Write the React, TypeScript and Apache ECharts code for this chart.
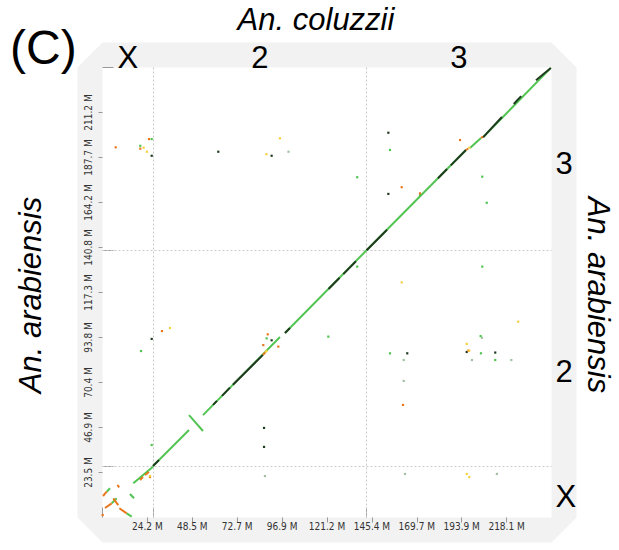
import { useEffect, useRef } from "react";
import * as echarts from "echarts";

// Genome sizes (Mb) and ticks
const xTotal = 242.37; // An. coluzzii
const yTotal = 234.62; // An. arabiensis
const xTickLabels = ["24.2 M", "48.5 M", "72.7 M", "96.9 M", "121.2 M", "145.4 M", "169.7 M", "193.9 M", "218.1 M"];
const yTickLabels = ["23.5 M", "46.9 M", "70.4 M", "93.8 M", "117.3 M", "140.8 M", "164.2 M", "187.7 M", "211.2 M"];

// Chromosome arms along each axis (Mb)
const chromNames = ["X", "2", "3"];
const xChromStarts = [0, 27.4, 142.4];
const xChromEnds = [27.4, 142.4, 242.37];
const yChromEnds = [26.6, 139.5, 234.62];
const yChromLabelAt = [10.7, 75.9, 184.8];

// Alignment segments [x1, y1, x2, y2] in Mb, grouped by identity class
const greenSegments = [
  [27.26, 26.85, 46.7, 45.6],
  [46.7, 53.4, 54.25, 45.1],
  [54.25, 53.4, 95.8, 94.1],
  [98.5, 96.2, 142.4, 139.2],
  [142.4, 139.2, 196.2, 191.6],
  [198.4, 192.6, 204.3, 197.9],
  [205.4, 198.2, 242.0, 234.4],
  [16.63, 17.83, 27.26, 26.49],
  [2.27, 13.45, 4.05, 15.22],
  [14.84, 12.25, 17.0, 10.01],
  [4.97, 7.4, 7.66, 10.01],
  [13.06, 2.19, 15.76, 0.5],
];
const darkSegments = [
  [27.26, 26.85, 30.5, 30.0],
  [59.65, 58.7, 61.8, 60.8],
  [64.5, 63.4, 68.8, 67.7],
  [70.4, 69.2, 86.6, 84.8],
  [98.5, 96.2, 101.2, 98.8],
  [122.0, 119.1, 128.0, 125.0],
  [130.0, 126.9, 136.8, 133.6],
  [142.6, 139.3, 153.6, 150.0],
  [181.1, 176.9, 186.0, 181.7],
  [188.0, 183.6, 196.2, 191.6],
  [205.4, 198.2, 215.6, 208.8],
  [222.0, 215.6, 226.0, 219.7],
  [234.0, 228.0, 242.0, 234.4],
];
const orangeSegments = [
  [0.27, 11.21, 2.27, 13.45],
  [7.99, 16.94, 9.07, 15.75],
  [1.35, 4.95, 4.97, 7.4],
  [5.83, 10.0, 8.5, 6.5],
  [9.07, 4.8, 13.06, 2.19],
  [20.24, 19.55, 21.86, 21.12],
  [22.94, 22.16, 25.1, 23.72],
  [86.6, 84.8, 87.8, 86.0],
  [196.2, 191.6, 197.5, 192.4],
  [204.3, 197.9, 205.4, 198.6],
];
const yellowSegments = [
  [87.8, 86.0, 89.0, 87.2],
];

// Isolated matches [x, y] in Mb
const greenDots = [
  [26.56, 37.8], [137.5, 177.4], [155.2, 191.6], [205.0, 177.7], [207.4, 164.1],
  [137.5, 130.8], [205.0, 130.8], [121.9, 94.3], [204.1, 94.6], [155.2, 85.6],
  [204.3, 85.6], [212.0, 82.1], [20.8, 86.8], [26.56, 197.3], [20.4, 193.8],
  [88.6, 93.4], [171.4, 168.1],
];
const darkDots = [
  [62.5, 190.7], [91.3, 188.6], [154.3, 168.7], [26.56, 188.6], [26.56, 93.1],
  [164.5, 85.6], [212.0, 86.0], [87.2, 46.7], [87.2, 36.8], [154.3, 200.6],
  [196.6, 86.3], [91.3, 92.4],
];
const paleDots = [
  [100.4, 190.7], [162.6, 82.1], [199.4, 82.1], [220.7, 82.1], [162.6, 71.2],
  [204.8, 93.7], [163.3, 22.7], [212.9, 22.7], [87.7, 21.6],
];
const orangeDots = [
  [193.0, 196.8], [161.5, 172.2], [89.2, 95.5], [94.9, 89.1], [86.8, 89.9],
  [197.5, 87.0], [7.1, 193.0], [25.1, 197.3], [20.4, 192.3], [32.1, 97.2],
  [162.2, 58.7], [0.1, 1.3], [25.64, 21.1], [171.4, 169.0],
];
const yellowDots = [
  [95.8, 197.7], [88.5, 189.4], [161.5, 122.6], [224.4, 102.1], [196.6, 90.5],
  [22.2, 192.8], [24.0, 190.7], [36.4, 98.8], [198.0, 87.0], [25.64, 21.64],
  [198.0, 192.8], [196.6, 22.7], [198.0, 21.1],
];

const COLORS = {
  green: "#52c452",
  dark: "#1f3b1f",
  orange: "#e8771e",
  yellow: "#f5d040",
  pale: "#a3bfa3",
  frame: "#f2f2f2",
};

const SANS = "'Liberation Sans', Arial, Helvetica, sans-serif";
const NARROW = "'Liberation Sans Narrow', 'DejaVu Sans Condensed', 'Liberation Sans', sans-serif";

const xStep = xTotal / 10;
const yStep = yTotal / 10;
const xTickValues = xTickLabels.map((_, i) => (i + 1) * xStep);
const yTickValues = yTickLabels.map((_, i) => (i + 1) * yStep);
const xChromMids = xChromStarts.map((s, i) => (s + xChromEnds[i]) / 2);

const nearestIndex = (arr: number[], v: number) => {
  let best = 0;
  arr.forEach((a, i) => {
    if (Math.abs(a - v) < Math.abs(arr[best] - v)) best = i;
  });
  return best;
};

// Each segment is drawn as a straight line between two data points
const segSeries = (segs: number[][], color: string, z: number) => ({
  type: "custom",
  xAxisIndex: 0,
  yAxisIndex: 0,
  silent: true,
  z,
  encode: { x: [0, 2], y: [1, 3] },
  data: segs,
  renderItem: (_params: any, api: any) => {
    const p1 = api.coord([api.value(0), api.value(1)]);
    const p2 = api.coord([api.value(2), api.value(3)]);
    return {
      type: "line",
      shape: { x1: p1[0], y1: p1[1], x2: p2[0], y2: p2[1] },
      style: { stroke: color, lineWidth: 2, fill: null },
    };
  },
});

const dotSeries = (dots: number[][], color: string, z: number) => ({
  type: "scatter",
  xAxisIndex: 0,
  yAxisIndex: 0,
  silent: true,
  z,
  symbol: "rect",
  symbolSize: 2.2,
  itemStyle: { color, opacity: 1 },
  data: dots,
});

// Plot area (px)
const G = { left: 102.5, top: 67.5, width: 449, height: 450 };
const BAND = 25;

export default function App() {
  const ref = useRef<HTMLDivElement>(null);

  useEffect(() => {
    if (!ref.current) return;
    const chart = echarts.init(ref.current, null, { renderer: "svg" });
    const L = G.left, T = G.top, R = G.left + G.width, B = G.top + G.height;

    chart.setOption({
      animation: false,
      backgroundColor: "#ffffff",
      grid: {
        left: G.left,
        top: G.top,
        width: G.width,
        height: G.height,
        show: true,
        backgroundColor: "#ffffff",
        borderWidth: 0,
        z: 0,
      },
      graphic: [
        {
          type: "polygon",
          z: -10,
          silent: true,
          shape: {
            points: [
              [L, T - BAND], [R, T - BAND], [R + BAND, T], [R + BAND, B],
              [R, B + BAND], [L, B + BAND], [L - BAND, B], [L - BAND, T],
            ],
          },
          style: { fill: COLORS.frame },
        },
        {
          type: "text",
          x: 10,
          y: 47,
          style: { text: "(C)", fontSize: 48, fontFamily: SANS, fill: "#000", verticalAlign: "middle", align: "left" },
        },
        {
          type: "text",
          x: 316,
          y: 19,
          style: { text: "An. coluzzii", fontSize: 31, fontStyle: "italic", fontFamily: SANS, fill: "#000", align: "center", verticalAlign: "middle" },
        },
        {
          type: "text",
          x: 30,
          y: 295,
          rotation: Math.PI / 2,
          style: { text: "An. arabiensis", fontSize: 31, fontStyle: "italic", fontFamily: SANS, fill: "#000", align: "center", verticalAlign: "middle" },
        },
        {
          type: "text",
          x: 598,
          y: 295,
          rotation: -Math.PI / 2,
          style: { text: "An. arabiensis", fontSize: 31, fontStyle: "italic", fontFamily: SANS, fill: "#000", align: "center", verticalAlign: "middle" },
        },
      ],
      xAxis: [
        {
          type: "value",
          min: 0,
          max: xTotal,
          position: "bottom",
          axisLine: { show: false },
          splitLine: { show: false },
          axisTick: { show: true, customValues: xTickValues, length: 5, lineStyle: { color: "#999" } },
          axisLabel: {
            customValues: xTickValues,
            formatter: (v: number) => xTickLabels[nearestIndex(xTickValues, v)],
            fontSize: 10,
            fontFamily: NARROW,
            color: "#333",
            margin: 4,
          },
        },
        {
          type: "value",
          min: 0,
          max: xTotal,
          position: "top",
          axisLine: { show: false },
          splitLine: { show: false },
          axisTick: { show: true, customValues: xChromStarts, length: 10, lineStyle: { color: "#999" } },
          axisLabel: {
            customValues: xChromMids,
            formatter: (v: number) => chromNames[nearestIndex(xChromMids, v)],
            fontSize: 31,
            fontFamily: SANS,
            color: "#000",
            margin: -5,
          },
        },
      ],
      yAxis: [
        {
          type: "value",
          min: 0,
          max: yTotal,
          position: "left",
          axisLine: { show: false },
          splitLine: { show: false },
          axisTick: { show: true, customValues: yTickValues, length: 4, lineStyle: { color: "#999" } },
          axisLabel: {
            customValues: yTickValues,
            formatter: (v: number) => yTickLabels[nearestIndex(yTickValues, v)],
            rotate: 90,
            fontSize: 10,
            fontFamily: NARROW,
            color: "#333",
            margin: 9,
          },
        },
        {
          type: "value",
          min: 0,
          max: yTotal,
          position: "right",
          axisLine: { show: false },
          splitLine: { show: false },
          axisTick: { show: true, customValues: yChromEnds, length: 11, lineStyle: { color: "#999" } },
          axisLabel: {
            customValues: yChromLabelAt,
            formatter: (v: number) => chromNames[nearestIndex(yChromLabelAt, v)],
            fontSize: 31,
            fontFamily: SANS,
            color: "#000",
            margin: 4,
          },
        },
      ],
      series: [
        {
          ...dotSeries(paleDots, COLORS.pale, 3),
          markLine: {
            silent: true,
            symbol: ["none", "none"],
            label: { show: false },
            lineStyle: { color: "#c8c8c8", type: [2, 2], width: 1 },
            z: 1,
            data: [
              ...xChromStarts.slice(1).map((v) => ({ xAxis: v })),
              ...yChromEnds.slice(0, 2).map((v) => ({ yAxis: v })),
            ],
          },
        },
        segSeries(greenSegments, COLORS.green, 4),
        segSeries(darkSegments, COLORS.dark, 5),
        segSeries(orangeSegments, COLORS.orange, 6),
        segSeries(yellowSegments, COLORS.yellow, 6),
        dotSeries(greenDots, COLORS.green, 7),
        dotSeries(darkDots, COLORS.dark, 7),
        dotSeries(orangeDots, COLORS.orange, 7),
        dotSeries(yellowDots, COLORS.yellow, 7),
      ],
    });

    return () => chart.dispose();
  }, []);

  return (
    <div
      ref={ref}
      style={{ position: "absolute", left: 0, top: 0, width: 619, height: 550 }}
    />
  );
}
